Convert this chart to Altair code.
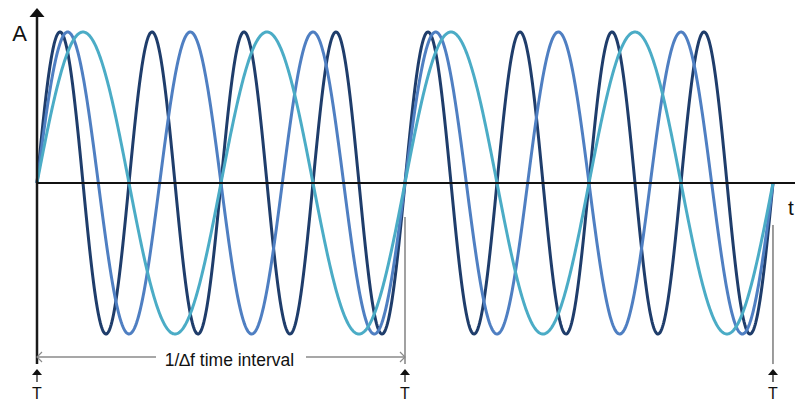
import altair as alt
import numpy as np
import pandas as pd

# ---- data ----
series = ["f3", "f2", "f1"]            # drawing order (teal on top)
cycles = [4, 3, 2]                     # cycles per 1/Δf interval
colors = ["#1f3d6b", "#4f7fc2", "#4bacc6"]
amplitude = 1.0
t_end = 2.0                            # two 1/Δf intervals

marker_t = [0.0, 1.0, 2.0]
marker_label = ["T", "T", "T"]
interval_label = "1/∆f time interval"

# ---- scales (plot area = whole svg) ----
W, H = 787, 393
xdom = [-0.0788, 2.0598]
ydom = [-1.4437, 1.1589]
xs = alt.Scale(domain=xdom, nice=False, zero=False)
ys = alt.Scale(domain=ydom, nice=False, zero=False)


def X(f="t"):
    return alt.X(f"{f}:Q", scale=xs, axis=None)


def Y(f="a"):
    return alt.Y(f"{f}:Q", scale=ys, axis=None)


layers = []

# sine curves
tt = np.linspace(0, t_end, 1200)
for name, cyc, col in zip(series, cycles, colors):
    df = pd.DataFrame({"t": tt, "a": amplitude * np.sin(2 * np.pi * cyc * tt)})
    layers.append(
        alt.Chart(df).mark_line(color=col, strokeWidth=3, clip=False).encode(x=X(), y=Y())
    )

# axes
yaxis = pd.DataFrame({"t": [0.0], "a": [-1.199], "a2": [1.099]})
layers.append(alt.Chart(yaxis).mark_rule(color="#1a1a1a", strokeWidth=2.5).encode(
    x=X(), y=Y(), y2="a2:Q"))
xaxis = pd.DataFrame({"t": [0.0], "t2": [2.0598], "a": [0.0]})
layers.append(alt.Chart(xaxis).mark_rule(color="#111111", strokeWidth=2).encode(
    x=X(), x2="t2:Q", y=Y()))
top_arrow = pd.DataFrame({"t": [0.0], "a": [1.129]})
layers.append(alt.Chart(top_arrow).mark_point(
    shape="M-1,0.6L1,0.6L0,-0.6Z", size=225, filled=True, color="#111111", opacity=1, strokeWidth=0
).encode(x=X(), y=Y()))

# vertical interval lines
vlines = pd.DataFrame({"t": [1.0, 2.0], "a": [-0.225, -0.278], "a2": [-1.199, -1.199],
                       "c": ["#8a8a8a", "#3a3a3a"], "w": [1.6, 1.0]})
for i in range(2):
    layers.append(alt.Chart(vlines.iloc[[i]]).mark_rule(
        color=vlines["c"][i], strokeWidth=float(vlines["w"][i])).encode(x=X(), y=Y(), y2="a2:Q"))

# T markers
mk = pd.DataFrame({"t": marker_t, "a": [-1.252] * 3, "s1": [-1.272] * 3, "s2": [-1.318] * 3,
                   "ta": [-1.430] * 3, "lab": marker_label})
layers.append(alt.Chart(mk).mark_point(
    shape="M-1,0.6L1,0.6L0,-0.6Z", size=100, filled=True, color="#111111", opacity=1, strokeWidth=0
).encode(x=X(), y=Y()))
layers.append(alt.Chart(mk).mark_rule(color="#111111", strokeWidth=1.2).encode(
    x=X(), y=Y("s1"), y2="s2:Q"))
layers.append(alt.Chart(mk).mark_text(
    font="Liberation Sans", fontSize=16, align="center", baseline="alphabetic", color="#111111"
).encode(x=X(), y=Y("ta"), text="lab:N"))

# interval double arrow
seg = pd.DataFrame({"t": [0.0, 0.731], "t2": [0.3234, 1.0], "a": [-1.152, -1.152]})
layers.append(alt.Chart(seg).mark_rule(color="#8a8a8a", strokeWidth=1.5).encode(
    x=X(), x2="t2:Q", y=Y()))
chev = pd.DataFrame({"t": [0.0, 1.0], "a": [-1.152, -1.152],
                     "shape": ["M1,-1L0,0L1,1", "M-1,-1L0,0L-1,1"]})
for i in range(2):
    layers.append(alt.Chart(chev.iloc[[i]]).mark_point(
        shape=chev["shape"][i], size=100, filled=False, color="#8a8a8a", opacity=1, strokeWidth=1.2
    ).encode(x=X(), y=Y()))
lbl = pd.DataFrame({"t": [0.523], "a": [-1.212], "lab": [interval_label]})
layers.append(alt.Chart(lbl).mark_text(
    font="Liberation Sans", fontSize=17.5, align="center", baseline="alphabetic", color="#111111"
).encode(x=X(), y=Y(), text="lab:N"))

# axis letters
letters = pd.DataFrame({"t": [-0.0476, 2.049], "a": [0.940, -0.212], "lab": ["A", "t"],
                        "fs": [22, 21]})
for i in range(2):
    layers.append(alt.Chart(letters.iloc[[i]]).mark_text(
        font="Liberation Sans", fontSize=int(letters["fs"][i]), align="center",
        baseline="alphabetic", color="#111111"
    ).encode(x=X(), y=Y(), text="lab:N"))

chart = alt.layer(*layers).properties(
    width=W, height=H, padding=0,
    autosize=alt.AutoSizeParams(type="none"),
    background="white",
).configure_view(stroke=None)

chart.save("out.html", embed_options={"renderer": "svg", "actions": False})
